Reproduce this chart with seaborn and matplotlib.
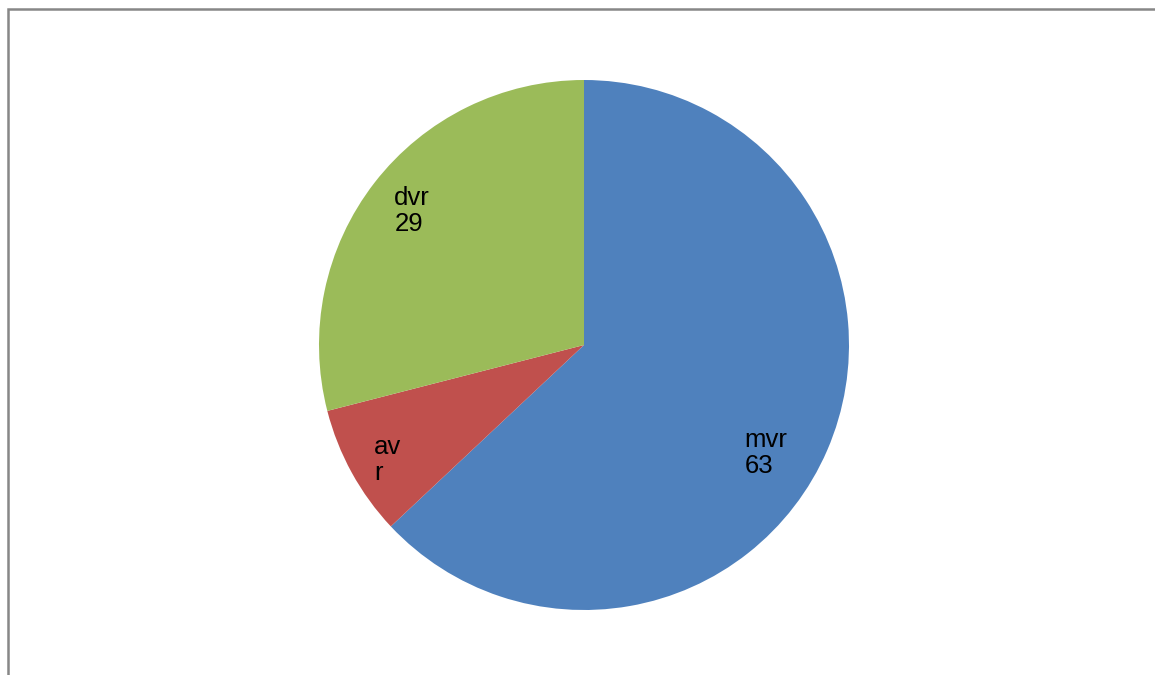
import matplotlib
matplotlib.use("Agg")
import matplotlib.pyplot as plt
import matplotlib.patches as mpatches
import seaborn as sns

# Data
categories = ["mvr", "avr", "dvr"]
values = [63, 8, 29]
label_texts = ["mvr\n63", "av\nr", "dvr\n29"]
colors = ["#4F81BD", "#C0504D", "#9BBB59"]

sns.set_theme(style="white")
plt.rcParams["font.family"] = ["Liberation Sans", "DejaVu Sans"]

W, H = 1155, 675
fig = plt.figure(figsize=(W / 100, H / 100), dpi=100)
fig.patch.set_facecolor("white")

# Chart-area frame (top and left edges visible)
frame = mpatches.Rectangle((8 / W, -0.2), 1.5, 1.2 - 9 / H,
                           transform=fig.transFigure, fill=False,
                           edgecolor="#878787", linewidth=1.8, clip_on=False)
fig.patches.append(frame)

# Pie axes: centre (584, 345) px, radius 265 px
cx, cy, r = 584, 345, 265
ax = fig.add_axes([(cx - r) / W, (H - cy - r) / H, 2 * r / W, 2 * r / H])
ax.pie(values, colors=sns.color_palette(colors), startangle=90,
       counterclock=False, radius=1.0,
       wedgeprops=dict(linewidth=0))
ax.set_xlim(-1, 1)
ax.set_ylim(-1, 1)
ax.set_aspect("equal")
ax.axis("off")

# Data labels: left edge x, first-line baseline y (radius units)
label_pos = [(0.605, -0.483), (-0.792, -0.509), (-0.716, 0.430)]
for txt, (lx, ly) in zip(label_texts, label_pos):
    ax.text(lx, ly, txt, ha="left", va="baseline", fontsize=18.5,
            color="black", linespacing=1.12, multialignment="left")

fig.savefig("out.png", dpi=100, facecolor="white")
